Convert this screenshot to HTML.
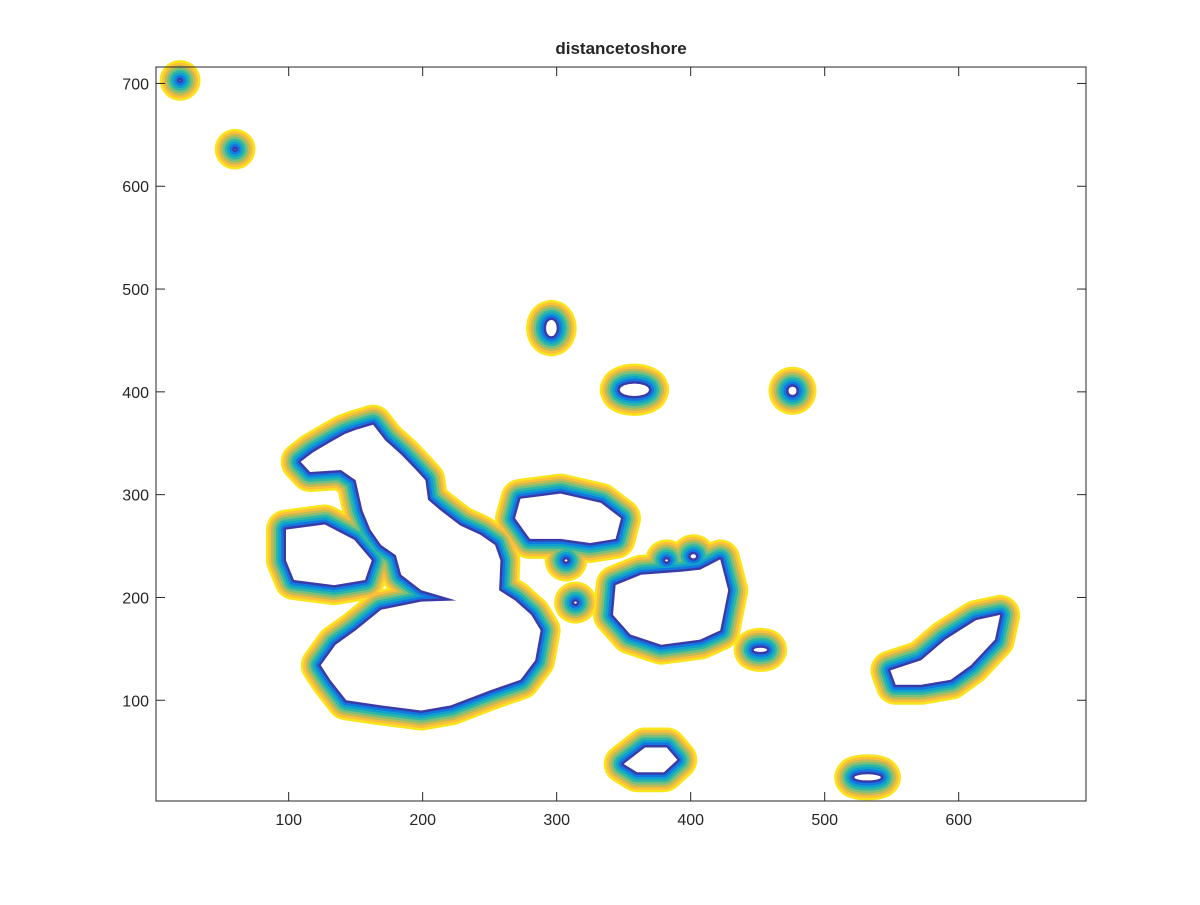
<!DOCTYPE html>
<html><head><meta charset="utf-8"><style>
body{margin:0;background:#fff;}
svg text{font-family:"Liberation Sans",Arial,sans-serif;fill:#262626;}
</style></head><body>
<svg id="chart" width="1200" height="900">
<rect width="1200" height="900" fill="#fff"/>
<g id="plot"></g>
<g id="axes"></g>
</svg>
<script>
// island shore outlines (data coords)
const islandNames=["isabela","fernandina","santiago","santa-cruz","san-cristobal","floreana","espanola-islet","marchena","pinta","genovesa","pinzon","rabida","santiago-islet","baltra","seymour","darwin","wolf"];
const isabela=[[150,363],[163,368],[172,353],[184,339],[195,324],[202,314],[204,295],[213,285],[228,270],[243,261],[254,251],[258,236],[257,207],[269,197],[281,183],[288,168],[284,139],[273,120],[251,110],[221,95],[199,90],[169,95],[143,100],[131,120],[124,134],[135,154],[150,168],[169,188],[199,196],[225,197],[199,207],[184,222],[180,241],[169,251],[161,266],[155,285],[150,314],[139,324],[116,322],[109,332],[118,341],[131,351],[142,359]];
const fernandina=[[98,266],[127,271],[149,256],[162,236],[157,217],[134,212],[104,217],[98,236]];
const santiago=[[273,296],[303,301],[333,292],[348,277],[344,257],[325,253],[303,257],[280,257],[269,277]];
const santaCruz=[[344,212],[363,222],[393,225],[407,227],[422,237],[428,207],[422,168],[407,159],[378,154],[355,164],[342,183]];
const sanCristobal=[[549,129],[572,139],[590,159],[613,178],[631,183],[627,159],[609,134],[594,120],[572,115],[553,115]];
const floreana=[[350,38],[366,54],[382,54],[390,42],[380,30],[360,30]];
// small islands as ellipses: center x, center y, rx, ry (data units)
const smallCx=[532,358,296,476,452,314,307,382,402,19,60];
const smallCy=[25,402,462,401,149,195,236,236,240,703,636];
const smallRx=[10,11,4,3,5,1,1,1,2,0.3,0.3];
const smallRy=[3,6,8,4,2,1,1,1,2,0.3,0.3];
const polyIslands=[isabela,fernandina,santiago,santaCruz,sanCristobal,floreana];
// contour levels (outer->inner), colours from parula
const levels=[8,7,6,5,4,3,2,1];
const levelColors=["#f9e51e","#fdbf3a","#c2bb54","#7cbf7b","#2fb7a6","#10a1cc","#1277e0","#3a3aa8"];
const xTicks=[100,200,300,400,500,600];
const yTicks=[100,200,300,400,500,600,700];
const X0=156,X1=1086,Y0=67,Y1=801,xmin=1,xmax=695,ymin=2,ymax=716;
const sx=v=>X0+(v-xmin)/(xmax-xmin)*(X1-X0);
const sy=v=>Y1-(v-ymin)/(ymax-ymin)*(Y1-Y0);
const NS="http://www.w3.org/2000/svg";
const plot=document.getElementById('plot'),axes=document.getElementById('axes');
function mk(t,a,p){const e=document.createElementNS(NS,t);for(const k in a)e.setAttribute(k,a[k]);p.appendChild(e);return e;}
const shapes=[];
polyIslands.forEach(p=>shapes.push("M"+p.map(q=>sx(q[0]).toFixed(1)+","+sy(q[1]).toFixed(1)).join("L")+"Z"));
smallCx.forEach((cx,i)=>{let pts=[];for(let k=0;k<16;k++){const a=k/16*2*Math.PI;pts.push(sx(cx+smallRx[i]*Math.cos(a)).toFixed(1)+","+sy(smallCy[i]+smallRy[i]*Math.sin(a)).toFixed(1));}shapes.push("M"+pts.join("L")+"Z");});
levels.forEach((lv,li)=>{
  const g=mk('g',{},plot);
  
  
  shapes.forEach((d,si)=>{
    const p=mk('path',{d:d,fill:levelColors[li],stroke:levelColors[li],'stroke-width':lv*5,'stroke-linejoin':'round','stroke-linecap':'round'},g);
    
    
  });
});
shapes.forEach((d,si)=>{
  const p=mk('path',{d:d,fill:'#fff',stroke:'none'},plot);
  
  
});
const box=mk('rect',{x:X0,y:Y0,width:X1-X0,height:Y1-Y0,fill:'none',stroke:'#262626','stroke-width':1},axes);


xTicks.forEach(v=>{const x=sx(v);
  mk('line',{x1:x,x2:x,y1:Y1,y2:Y1-9,stroke:'#262626'},axes);
  mk('line',{x1:x,x2:x,y1:Y0,y2:Y0+9,stroke:'#262626'},axes);
  const t=mk('text',{x:x,y:Y1+24,'text-anchor':'middle','font-size':16},axes);t.textContent=v;
  
  
});
yTicks.forEach(v=>{const y=sy(v);
  mk('line',{x1:X0,x2:X0+9,y1:y,y2:y,stroke:'#262626'},axes);
  mk('line',{x1:X1,x2:X1-9,y1:y,y2:y,stroke:'#262626'},axes);
  const t=mk('text',{x:X0-7,y:y+6,'text-anchor':'end','font-size':16},axes);t.textContent=v;
  
  
});
const title=mk('text',{x:621,y:54,'text-anchor':'middle','font-size':17,'font-weight':'bold',fill:'#000'},axes);
title.textContent='distancetoshore';


</script>
</body></html>
